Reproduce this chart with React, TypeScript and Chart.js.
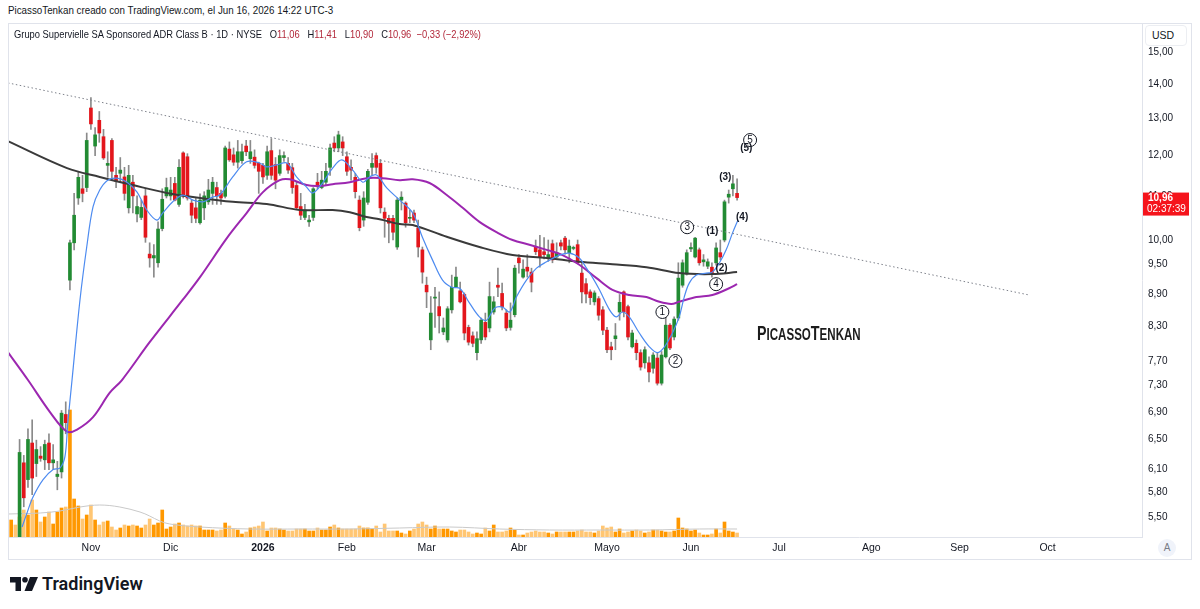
import React, { useEffect, useRef } from 'react';
import { Chart, registerables } from 'chart.js';

Chart.register(...registerables);

// ---------- data (bar index 0 = Nov 3 2025, one step per trading day) ----------
const FIRST_INDEX = -20;

const opens = [
  5.10, 5.15, 5.20, 5.15, 6.18, 5.96, 6.45, 6.17, 6.27, 6.22, 6.45, 6.18, 6.00, 6.06, 6.86,
  9.17, 9.94, 10.95, 11.17, 11.20,
  13.30, 12.25, 12.95, 12.50, 11.75, 12.40, 11.50, 11.55, 11.46, 10.72,
  11.33, 10.58, 10.50, 11.00, 9.70, 9.62, 9.52, 10.25, 11.00, 11.00,
  11.30, 10.80, 12.07, 11.97, 10.83, 10.72, 10.38, 10.72, 10.86, 11.06,
  11.20, 11.06, 10.99, 12.17, 12.02, 11.83, 11.87, 12.25, 11.92, 11.96,
  11.80, 11.75, 11.50, 12.13, 11.77, 11.55, 11.95, 11.80, 11.69, 11.25,
  10.75, 10.50, 10.40, 10.50, 11.33, 11.20, 11.33, 11.70, 12.33, 12.20,
  12.36, 11.97, 11.70, 11.45, 10.90, 10.44, 10.85, 11.70, 12.00, 11.80,
  10.62, 10.48, 10.48, 9.85, 10.90, 10.83, 10.48, 10.60, 10.26, 9.79,
  9.07, 8.06, 8.82, 8.66, 8.20, 8.06, 8.60, 9.03, 8.96, 8.89,
  8.28, 8.13, 7.84, 8.06, 8.37, 8.27, 8.56, 9.07, 8.91, 8.54,
  8.28, 8.51, 9.62, 9.23, 9.43, 9.33, 9.85, 9.79, 9.75, 9.62,
  9.92, 9.64, 9.94, 10.04, 9.73, 9.82, 9.90, 9.31, 9.10, 8.94,
  8.75, 8.81, 8.60, 8.23, 7.94, 8.08, 8.56, 8.94, 8.66, 7.94,
  8.00, 7.84, 7.67, 7.67, 7.58, 7.75, 7.34, 7.77, 8.32, 8.11,
  8.45, 9.07, 9.29, 9.81, 9.64, 9.79, 9.54, 9.45, 9.43, 9.52,
  9.73, 10.00, 10.97, 11.17, 11.06,
];
const highs = [
  5.20, 5.25, 5.25, 6.50, 6.28, 6.65, 6.78, 6.49, 6.40, 6.49, 6.58, 6.43, 6.20, 6.92, 7.05,
  10.00, 11.06, 11.60, 11.50, 12.60,
  13.60, 12.75, 13.20, 12.70, 12.10, 12.45, 11.70, 11.95, 11.70, 11.75,
  11.50, 11.00, 10.90, 11.17, 9.94, 9.90, 10.40, 11.17, 11.43, 11.45,
  11.45, 11.90, 12.10, 12.05, 10.90, 10.94, 11.05, 11.10, 11.40, 11.45,
  11.33, 11.14, 12.25, 12.36, 12.20, 12.40, 12.30, 12.40, 12.40, 12.15,
  11.83, 11.80, 12.25, 12.45, 11.95, 12.15, 12.10, 11.95, 11.80, 11.33,
  11.06, 10.80, 10.55, 11.20, 11.55, 11.60, 11.80, 12.30, 12.50, 12.65,
  12.50, 12.10, 11.89, 11.55, 11.00, 11.10, 11.65, 12.05, 12.07, 11.90,
  10.72, 10.55, 10.55, 10.95, 11.10, 10.86, 10.67, 10.67, 10.44, 9.85,
  9.23, 8.85, 9.03, 8.94, 8.45, 8.66, 9.27, 9.43, 9.13, 8.92,
  8.32, 8.20, 8.20, 8.45, 8.54, 9.13, 8.85, 9.41, 9.11, 8.60,
  8.73, 9.47, 9.69, 9.58, 9.69, 9.41, 10.00, 10.10, 10.05, 10.00,
  10.00, 9.94, 10.00, 10.08, 10.00, 9.87, 10.00, 9.52, 9.20, 8.98,
  8.96, 8.85, 8.66, 8.28, 8.02, 8.35, 8.89, 8.96, 8.69, 8.23,
  8.06, 7.89, 7.94, 7.77, 7.84, 7.84, 7.86, 8.54, 8.35, 8.47,
  9.52, 9.58, 9.79, 9.94, 10.06, 9.83, 9.69, 9.60, 9.52, 9.94,
  10.00, 10.90, 11.14, 11.50, 11.41,
];
const lows = [
  5.00, 5.02, 5.05, 5.10, 5.62, 5.86, 5.77, 6.00, 6.20, 6.09, 6.09, 6.09, 5.83, 5.98, 6.58,
  8.98, 9.79, 10.80, 10.86, 11.10,
  12.70, 12.00, 12.35, 11.90, 11.45, 11.40, 11.20, 11.33, 10.90, 10.60,
  10.60, 10.40, 10.45, 9.95, 9.43, 9.23, 9.43, 10.20, 10.95, 10.90,
  10.88, 10.75, 10.95, 10.90, 10.38, 10.38, 10.35, 10.45, 10.80, 10.80,
  10.80, 10.80, 10.95, 11.85, 11.75, 11.68, 11.80, 12.00, 11.80, 11.68,
  11.06, 11.30, 11.40, 11.40, 11.17, 11.50, 11.85, 11.55, 11.06, 10.68,
  10.45, 10.45, 10.30, 10.43, 11.17, 11.17, 11.25, 11.50, 12.10, 12.10,
  12.00, 11.50, 11.38, 10.95, 10.20, 10.30, 10.80, 11.50, 11.55, 10.60,
  10.06, 9.94, 10.00, 9.80, 10.67, 10.28, 10.38, 10.38, 9.64, 9.11,
  8.64, 7.89, 8.28, 8.18, 8.15, 8.02, 8.54, 9.02, 8.73, 8.06,
  7.97, 7.94, 7.72, 8.00, 8.06, 8.20, 8.52, 8.85, 8.60, 8.22,
  8.23, 8.47, 9.31, 9.21, 9.23, 8.94, 9.69, 9.43, 9.60, 9.55,
  9.52, 9.62, 9.79, 9.70, 9.52, 9.79, 9.50, 8.73, 8.73, 8.70,
  8.69, 8.41, 8.15, 7.84, 7.72, 7.89, 8.41, 8.47, 8.06, 7.92,
  7.72, 7.55, 7.58, 7.36, 7.50, 7.31, 7.31, 7.75, 7.89, 8.06,
  8.41, 9.03, 9.27, 9.75, 9.62, 9.47, 9.45, 9.40, 9.23, 9.47,
  9.58, 9.96, 10.83, 11.00, 10.90,
];
const closes = [
  5.15, 5.20, 5.12, 6.32, 5.73, 6.50, 5.98, 6.36, 6.24, 6.43, 6.18, 6.22, 6.03, 6.88, 6.74,
  9.94, 10.55, 11.45, 11.06, 12.40,
  12.85, 12.55, 12.60, 11.94, 11.80, 11.60, 11.35, 11.63, 11.06, 11.50,
  11.00, 10.75, 10.73, 10.06, 9.62, 9.67, 10.24, 10.92, 11.20, 11.14,
  10.90, 11.70, 11.00, 10.95, 10.55, 10.48, 10.90, 11.00, 11.14, 11.33,
  11.00, 10.95, 12.20, 11.89, 11.83, 12.10, 12.10, 12.10, 12.10, 11.75,
  11.60, 11.46, 12.10, 11.50, 11.38, 12.00, 12.00, 11.63, 11.20, 10.72,
  10.55, 10.67, 10.44, 11.17, 11.25, 11.38, 11.60, 12.20, 12.20, 12.55,
  12.20, 11.60, 11.63, 11.10, 10.27, 10.95, 11.60, 11.80, 11.70, 10.72,
  10.48, 10.37, 10.17, 10.90, 10.97, 10.38, 10.50, 10.44, 9.85, 9.33,
  8.94, 8.54, 8.84, 8.49, 8.27, 8.62, 9.03, 9.23, 8.75, 8.18,
  8.02, 8.00, 8.08, 8.41, 8.11, 8.85, 8.75, 9.03, 8.66, 8.27,
  8.41, 9.41, 9.52, 9.39, 9.35, 9.13, 9.75, 9.64, 9.69, 9.69,
  9.58, 9.73, 9.87, 9.79, 9.87, 9.84, 9.52, 8.94, 8.90, 8.83,
  8.92, 8.50, 8.23, 7.89, 7.89, 8.13, 8.74, 8.56, 8.11, 8.18,
  7.84, 7.60, 7.89, 7.52, 7.80, 7.34, 7.80, 8.32, 7.92, 8.43,
  9.21, 9.52, 9.73, 9.84, 10.04, 9.52, 9.58, 9.54, 9.29, 9.83,
  9.64, 10.86, 11.04, 11.29, 10.96,
];
// volume, millions of shares
const volumes = [
  1.5,
  1.7, 1.2, 2.0, 2.7, 2.2, 3.7, 2.7, 1.5, 2.0, 2.5,
  1.3, 2.5, 2.9, 3.0, 12.7, 3.8, 3.1, 1.8, 2.2, 3.2,
  1.7, 1.2, 1.5, 1.6, 1.0, 0.7, 0.9, 1.2, 1.1, 1.2,
  1.1, 0.9, 1.2, 1.8, 1.2, 1.4, 2.7, 0.8, 1.0, 1.3,
  1.4, 1.2, 1.1, 1.2, 1.1, 1.1, 0.7, 0.7, 0.7, 0.6,
  0.7, 1.4, 1.1, 0.8, 0.7, 0.3, 0.5, 0.9, 1.0, 1.1,
  1.5, 0.6, 0.9, 0.9, 0.8, 0.7, 0.6, 0.6, 0.8, 0.8,
  0.8, 0.6, 0.6, 0.9, 0.7, 0.7, 1.0, 1.2, 0.9, 0.8,
  0.8, 0.8, 0.8, 1.1, 0.9, 0.9, 0.8, 1.1, 0.5, 1.3,
  0.6, 0.6, 0.6, 0.4, 0.3, 0.6, 0.8, 1.3, 1.5, 1.2,
  0.8, 1.1, 0.8, 0.8, 0.8, 0.6, 0.5, 0.7, 0.7, 0.5,
  0.3, 0.4, 0.3, 0.9, 0.6, 1.2, 0.5, 0.5, 0.6, 0.9,
  0.7, 0.2, 0.2, 0.4, 0.5, 0.6, 0.5, 0.5, 0.4, 0.3,
  0.5, 0.5, 0.5, 0.5, 0.5, 0.6, 0.7, 0.5, 0.5, 0.4,
  0.6, 1.1, 0.9, 1.0, 0.5, 0.8, 0.4, 0.5, 0.6, 0.7,
  0.6, 0.4, 0.5, 0.7, 0.7, 0.6, 0.5, 0.5, 0.6, 1.9,
  0.9, 0.8, 0.6, 0.7, 0.4, 0.2, 0.2, 0.3, 0.8, 0.4,
  1.5, 0.6, 0.5, 0.4,
];

// indicator lines as [bar index, value]
const maFast: number[][] = [
  [-16.4, 5.38], [-15.2, 5.55], [-13.8, 5.74], [-11.4, 5.96], [-9, 6.09], [-7.4, 6.11], [-6.2, 6.26],
  [-5.5, 6.74], [-4.5, 7.39], [-2.6, 8.79], [-1, 9.85], [0.5, 10.74], [2.1, 11.14], [4, 11.38],
  [6.2, 11.43], [8.6, 11.33], [11, 11.09], [13.3, 10.67], [15.7, 10.44], [17.1, 10.6], [19.5, 10.86],
  [21.9, 11.02], [24.3, 10.9], [26.7, 10.86], [29, 10.97], [30.7, 11.02], [33.8, 11.46], [37.1, 11.84],
  [40.2, 11.81], [41.9, 11.71], [44.3, 11.76], [46.7, 11.81], [49, 11.46], [51.4, 11.21], [52.9, 11.07],
  [55.2, 11.31], [57.6, 11.68], [59.8, 11.89], [62.4, 11.63], [64.8, 11.33], [66.4, 11.46], [68.1, 11.51],
  [70.5, 11.19], [73.6, 10.9], [76.7, 10.6], [79, 10.06], [81.4, 9.58], [83.8, 9.17], [86, 9.03],
  [87.9, 9.01], [90.2, 8.73], [92.6, 8.47], [94.3, 8.41], [96.2, 8.63], [98.1, 8.65], [99.8, 8.56],
  [101.4, 8.84], [103.8, 9.17], [106.2, 9.41], [108.6, 9.54], [111.7, 9.68], [114, 9.72], [116.4, 9.62],
  [118.1, 9.41], [119.5, 9.23], [121.2, 8.98], [123.6, 8.6], [125.2, 8.47], [126.7, 8.56], [128.3, 8.47],
  [130.7, 8.18], [133.1, 7.94], [135, 7.84], [136.7, 7.94], [138.6, 8.18], [140.2, 8.47], [141.4, 8.84],
  [142.6, 9.11], [144.3, 9.27], [146.7, 9.31], [148.1, 9.33], [149.8, 9.52], [151.4, 9.79], [152.9, 10.15],
  [154.2, 10.44],
];
const maMid: number[][] = [
  [-19.8, 7.85], [-15, 7.39], [-9.8, 6.9], [-5.7, 6.61], [-3.3, 6.64], [0.5, 6.82], [4.5, 7.19],
  [7.4, 7.39], [14, 8.02], [21.9, 8.79], [26, 9.23], [32.4, 10.04], [37.1, 10.6], [41, 11.09],
  [45, 11.38], [47.4, 11.4], [51.4, 11.26], [54.5, 11.24], [57.6, 11.28], [61.7, 11.33], [65.7, 11.43],
  [69.5, 11.43], [73.6, 11.38], [76.7, 11.4], [80.7, 11.31], [84.8, 11.02], [88.6, 10.72], [92.6, 10.4],
  [96.7, 10.17], [100.5, 10.0], [104.5, 9.9], [108.6, 9.79], [112.4, 9.68], [116.4, 9.48], [120.5, 9.21],
  [124.3, 8.98], [128.3, 8.88], [132.4, 8.84], [135.5, 8.75], [138.3, 8.71], [140.2, 8.75], [144.3, 8.84],
  [148.1, 8.88], [152.1, 9.01], [154, 9.09],
];
const maSlow: number[][] = [
  [-19.8, 12.38], [-5.7, 11.68], [2.1, 11.46], [10, 11.26], [18.1, 11.07], [26, 10.95], [33.8, 10.86],
  [41.9, 10.81], [49.8, 10.67], [57.6, 10.67], [61.7, 10.62], [65.7, 10.51], [68.8, 10.46], [73.6, 10.35],
  [76.7, 10.33], [84.8, 10.07], [92.6, 9.85], [100.5, 9.68], [108.6, 9.62], [116.4, 9.54], [124.3, 9.49],
  [132.4, 9.43], [140.2, 9.31], [148.1, 9.29], [154, 9.33],
];
const volumeAvg: number[][] = [
  [-19.8, 2.3], [-12.1, 2.4], [-7.4, 2.6], [-2.6, 3.0], [2.1, 3.2], [6.9, 3.0], [11.7, 2.5], [14, 2.1],
  [16.4, 1.6], [18.8, 1.3], [26, 1.0], [37.9, 0.8], [49.8, 0.8], [61.7, 0.8], [73.6, 0.9], [85.5, 1.0],
  [97.4, 0.8], [109.3, 0.7], [121.2, 0.7], [133.1, 0.7], [145, 0.8], [154, 0.8],
];
const trendLine: number[][] = [[-19.76, 14.04], [223.6, 8.88]];

const waveLabels = [
  { i: 136.2, p: 8.56, t: '1', circled: true },
  { i: 139.3, p: 7.7, t: '2', circled: true },
  { i: 142.1, p: 10.28, t: '3', circled: true },
  { i: 149.0, p: 9.09, t: '4', circled: true },
  { i: 157.1, p: 12.41, t: '5', circled: true },
  { i: 148.1, p: 10.2, t: '(1)', circled: false },
  { i: 150.3, p: 9.41, t: '(2)', circled: false },
  { i: 151.2, p: 11.46, t: '(3)', circled: false },
  { i: 155.2, p: 10.5, t: '(4)', circled: false },
  { i: 156.2, p: 12.2, t: '(5)', circled: false },
];

const priceTicks = [5.5, 5.8, 6.1, 6.5, 6.9, 7.3, 7.7, 8.3, 8.9, 9.5, 10, 11, 12, 13, 14, 15];
const monthTicks = [0, 19, 41, 61, 80, 102, 123, 143, 164, 186, 207, 228];
const monthLabels = ['Nov', 'Dic', '2026', 'Feb', 'Mar', 'Abr', 'Mayo', 'Jun', 'Jul', 'Ago', 'Sep', 'Oct'];

const FONT = "'Liberation Sans', Arial, sans-serif";
const TEXT = '#131722';
const UP = '#228b33';
const DOWN = '#e3161c';

const fmt = (v: number) => v.toFixed(2).replace('.', ',');

const overlayPlugin = {
  id: 'overlay',
  afterDatasetsDraw(chart: any) {
    const { ctx, scales } = chart;
    const xs = scales.x;
    const ys = scales.y;
    ctx.save();
    ctx.textAlign = 'center';
    ctx.textBaseline = 'middle';
    for (const w of waveLabels) {
      const px = xs.getPixelForValue(w.i);
      const py = ys.getPixelForValue(w.p);
      if (w.circled) {
        ctx.beginPath();
        ctx.arc(px, py, 6.5, 0, Math.PI * 2);
        ctx.fillStyle = '#ffffff';
        ctx.fill();
        ctx.lineWidth = 1;
        ctx.strokeStyle = '#131722';
        ctx.stroke();
        ctx.fillStyle = '#131722';
        ctx.font = `10px ${FONT}`;
        ctx.fillText(w.t, px, py + 0.5);
      } else {
        ctx.fillStyle = '#131722';
        ctx.font = `bold 10px ${FONT}`;
        ctx.fillText(w.t, px, py);
      }
    }
    ctx.restore();
  },
  afterDraw(chart: any) {
    const { ctx, scales, chartArea } = chart;
    const last = closes[closes.length - 1];
    const py = scales.y.getPixelForValue(last);
    const left = chartArea.right + 1;
    ctx.save();
    ctx.fillStyle = '#f5141c';
    ctx.fillRect(left, py - 5, 46, 23);
    ctx.fillStyle = '#ffffff';
    ctx.textAlign = 'left';
    ctx.textBaseline = 'middle';
    ctx.font = `bold 10px ${FONT}`;
    ctx.fillText(fmt(last), left + 5, py + 1);
    ctx.font = `10px ${FONT}`;
    ctx.fillText('02:37:39', left + 4, py + 12);
    ctx.restore();
  },
};

export default function App() {
  const ref = useRef<HTMLCanvasElement>(null);

  useEffect(() => {
    const canvas = ref.current;
    if (!canvas) return;
    const idx = opens.map((_, k) => FIRST_INDEX + k);
    const isUp = idx.map((_, k) => closes[k] >= opens[k]);
    const bodies = idx.map((x, k) => ({ x, y: [opens[k], closes[k]] }));
    const wicks = idx.map((x, k) => ({ x, y: [lows[k], highs[k]] }));
    const vols = idx.map((x, k) => ({ x, y: volumes[k] }));
    const pts = (arr: number[][]) => arr.map(([x, y]) => ({ x, y }));

    const chart = new Chart(canvas, {
      type: 'bar',
      data: {
        datasets: [
          {
            type: 'line', data: pts(trendLine), borderColor: '#7d808a', borderWidth: 1,
            borderDash: [1.5, 2.5], pointRadius: 0, order: 1,
          } as any,
          {
            type: 'line', data: pts(maFast), borderColor: '#4d8bf0', borderWidth: 1.2,
            pointRadius: 0, tension: 0.35, order: 1,
          } as any,
          {
            type: 'line', data: pts(maMid), borderColor: '#9c27b0', borderWidth: 2,
            pointRadius: 0, tension: 0.35, order: 1,
          } as any,
          {
            type: 'line', data: pts(maSlow), borderColor: '#3a3a3a', borderWidth: 2,
            pointRadius: 0, tension: 0.35, order: 1,
          } as any,
          {
            type: 'bar', data: bodies, backgroundColor: isUp.map((u) => (u ? UP : DOWN)),
            barThickness: 3, grouped: false, minBarLength: 1, order: 3,
          } as any,
          {
            type: 'bar', data: wicks, backgroundColor: '#8a8a8a',
            barThickness: 1, grouped: false, order: 4,
          } as any,
          {
            type: 'line', data: pts(volumeAvg), yAxisID: 'vol', borderColor: '#c9c9c9', borderWidth: 1,
            pointRadius: 0, tension: 0.35, order: 5,
          } as any,
          {
            type: 'bar', data: vols, yAxisID: 'vol',
            backgroundColor: isUp.map((u) => (u ? '#ff9800' : 'rgba(255,152,0,0.55)')),
            barThickness: 3, grouped: false, order: 6,
          } as any,
        ],
      },
      options: {
        animation: false,
        responsive: false,
        maintainAspectRatio: false,
        events: [],
        layout: { padding: 0, autoPadding: false } as any,
        plugins: { legend: { display: false }, tooltip: { enabled: false } },
        scales: {
          x: {
            type: 'linear',
            offset: false,
            min: -19.76,
            max: 250.5,
            grid: { display: false, drawTicks: false },
            border: { display: true, color: '#e0e3eb' },
            afterBuildTicks: (axis: any) => {
              axis.ticks = monthTicks.map((v) => ({ value: v }));
            },
            afterFit: (axis: any) => {
              axis.height = 23;
              axis.paddingLeft = 0;
              axis.paddingRight = 0;
            },
            ticks: {
              autoSkip: false,
              maxRotation: 0,
              padding: 5,
              color: TEXT,
              font: (c: any) => ({ family: FONT, size: 10.5, weight: c.index === 2 ? 'bold' : 'normal' }),
              callback: (_v: any, i: number) => monthLabels[i],
            },
          } as any,
          y: {
            type: 'logarithmic',
            position: 'right',
            min: 5.265,
            max: 15.98,
            grid: { display: false, drawTicks: false },
            border: { display: true, color: '#e0e3eb' },
            afterBuildTicks: (axis: any) => {
              axis.ticks = priceTicks.map((v) => ({ value: v }));
            },
            afterFit: (axis: any) => {
              axis.width = 50;
              axis.paddingTop = 0;
              axis.paddingBottom = 0;
            },
            ticks: {
              autoSkip: false,
              padding: 6,
              color: TEXT,
              font: { family: FONT, size: 10 },
              callback: (v: any) => fmt(Number(v)),
            },
          } as any,
          vol: {
            type: 'linear',
            display: false,
            min: 0,
            max: 51.4,
          },
        },
      },
      plugins: [overlayPlugin],
    });
    return () => chart.destroy();
  }, []);

  const red = { color: '#b2283a' };
  return (
    <div style={{ position: 'fixed', left: 0, top: 0, width: 1200, height: 609, background: '#ffffff', fontFamily: FONT, color: TEXT, overflow: 'hidden' }}>
      <div style={{ position: 'absolute', left: 8, top: 4, fontSize: 11, whiteSpace: 'nowrap', transform: 'scaleX(0.89)', transformOrigin: 'left center' }}>
        PicassoTenkan creado con TradingView.com, el Jun 16, 2026 14:22 UTC-3
      </div>
      <canvas ref={ref} width={1184} height={537} style={{ position: 'absolute', left: 8, top: 23, width: 1184, height: 537 }} />
      <div style={{ position: 'absolute', left: 8, top: 23, width: 1184, height: 537, border: '1px solid #e0e3eb', boxSizing: 'border-box', pointerEvents: 'none' }} />
      <div style={{ position: 'absolute', left: 14, top: 28, fontSize: 11, whiteSpace: 'nowrap', transform: 'scaleX(0.85)', transformOrigin: 'left center' }}>
        Grupo Supervielle SA Sponsored ADR Class B · 1D · NYSE&nbsp;&nbsp;
        O<span style={red}>11,06</span>&nbsp;&nbsp;
        H<span style={red}>11,41</span>&nbsp;&nbsp;
        L<span style={red}>10,90</span>&nbsp;&nbsp;
        C<span style={red}>10,96</span>&nbsp;&nbsp;
        <span style={red}>−0,33 (−2,92%)</span>
      </div>
      <div style={{ position: 'absolute', left: 1145, top: 25, width: 42, height: 21, border: '1px solid #eceef2', borderRadius: 4, boxSizing: 'border-box', fontSize: 10.5, lineHeight: '19px', paddingLeft: 6, background: '#fff' }}>
        USD
      </div>
      <div style={{ position: 'absolute', left: 757, top: 322, fontWeight: 'bold', fontSize: 17, lineHeight: '21px', color: '#1c1c1c', whiteSpace: 'nowrap', transform: 'scaleX(0.68)', transformOrigin: 'left center' }}>
        <span style={{ fontSize: 21 }}>P</span>ICASSO<span style={{ fontSize: 21 }}>T</span>ENKAN
      </div>
      <div style={{ position: 'absolute', left: 1158, top: 539, width: 18, height: 18, borderRadius: 9, background: '#f0f3fa', color: '#787b86', fontSize: 10, lineHeight: '18px', textAlign: 'center' }}>
        A
      </div>
      <div style={{ position: 'absolute', left: 10, top: 574, display: 'flex', alignItems: 'center' }}>
        <svg width="28" height="14" viewBox="0 0 28 14">
          <path d="M0 0 H11 V14 H5.5 V5.5 H0 Z" fill="#131722" />
          <circle cx="15" cy="2.8" r="2.8" fill="#131722" />
          <path d="M20 0 H28 L22 14 H14.5 Z" fill="#131722" />
        </svg>
        <span style={{ marginLeft: 4, fontFamily: 'Roboto, sans-serif', fontWeight: 600, fontSize: 18, color: '#131722', lineHeight: '20px' }}>
          TradingView
        </span>
      </div>
    </div>
  );
}
